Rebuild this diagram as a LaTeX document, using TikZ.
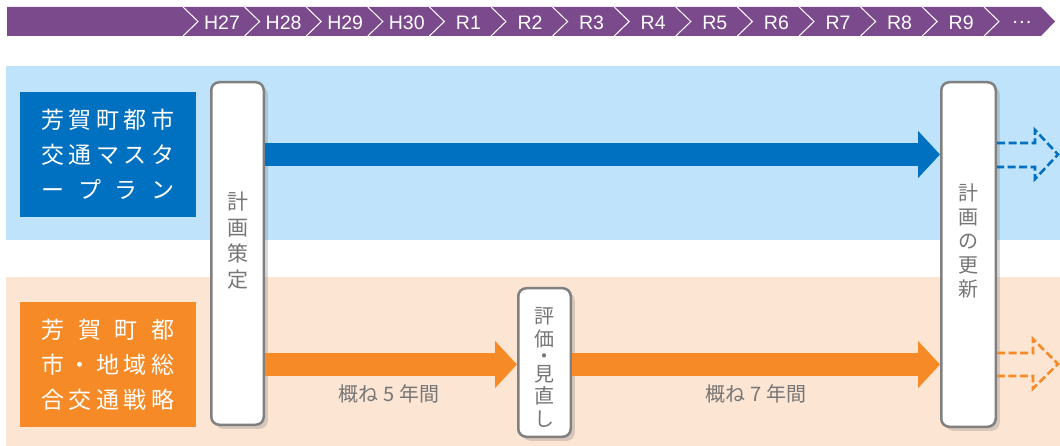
\documentclass[tikz,border=0pt]{standalone}
\usepackage{fontspec}
\setmainfont{Noto Sans CJK JP}
\newfontfamily\latinfont{Liberation Sans}
\usetikzlibrary{arrows.meta,shadows}

\definecolor{barpurple}{RGB}{123,74,140}
\definecolor{bandblue}{RGB}{190,227,250}
\definecolor{mainblue}{RGB}{0,112,192}
\definecolor{bandorange}{RGB}{253,229,211}
\definecolor{mainorange}{RGB}{246,138,38}
\definecolor{boxgray}{RGB}{128,128,128}
\definecolor{txtgray}{RGB}{118,118,118}

\begin{document}
\begin{tikzpicture}[x=1pt,y=-1pt]
\tikzstyle{yr} = [text=white, inner sep=0, font=\latinfont\fontsize{19.5}{19.5}\selectfont]
\tikzstyle{tbox} = [minimum width=176pt, minimum height=125pt, inner sep=0, text=white, align=center, font=\fontsize{23}{35}\selectfont]
\tikzstyle{vbox} = [draw=boxgray, line width=2.5pt, fill=white, rounded corners=8pt, inner sep=0, drop shadow={shadow xshift=4pt, shadow yshift=-4pt, opacity=0.3}]
\tikzstyle{vtxt} = [text=txtgray, align=center, inner sep=0, font=\fontsize{21}{26}\selectfont]
\tikzstyle{bigarrow} = [line width=23pt, -{Triangle[length=22pt,width=46pt]}]
\tikzstyle{dasharrow} = [line width=2.6pt, dash pattern=on 8pt off 3.5pt]
\tikzstyle{lbl} = [text=txtgray, inner sep=0, font=\fontsize{20}{20}\selectfont]

\useasboundingbox (0,0) rectangle (1060,446);

% Bande di sfondo
\fill[bandblue] (6,66) rectangle (1060,240);
\fill[bandorange] (6,277) rectangle (1060,446);

% Barra degli anni
\fill[barpurple] (7,7) -- (1041,7) -- (1055,21.5) -- (1041,36) -- (7,36) -- cycle;
\foreach \lab [count=\i from 0] in {H27,H28,H29,H30,R1,R2,R3,R4,R5,R6,R7,R8,R9} {
  \pgfmathsetmacro{\x}{183+61.6*\i}
  \draw[white, line width=1pt] (\x,7) -- (\x+15,21.5) -- (\x,36);
  \node[yr] (yr-\i) at (\x+39,23) {\lab};
}
\draw[white, line width=1pt] (984,7) -- (999,21.5) -- (984,36);
\node[yr, font=\fontsize{18}{18}\selectfont] (yr-13) at (1022.5,22) {…};

% Riquadri dei piani
\node[tbox, fill=mainblue] (master) at (108,154.5) {%
  \makebox[133pt]{芳\hfill 賀\hfill 町\hfill 都\hfill 市}\\
  \makebox[133pt]{交\hfill 通\hfill マ\hfill ス\hfill タ}\\
  \makebox[133pt]{ー\hfill プ\hfill ラ\hfill ン}};
\node[tbox, fill=mainorange] (strategy) at (108,364.5) {%
  \makebox[133pt]{芳\hfill 賀\hfill 町\hfill 都}\\
  \makebox[133pt]{市\hfill ・\hfill 地\hfill 域\hfill 総}\\
  \makebox[133pt]{合\hfill 交\hfill 通\hfill 戦\hfill 略}};

% Riquadri verticali
\node[vbox, minimum width=52.5pt, minimum height=342.5pt] (plan) at (237.5,253.5) {};
\node[vbox, minimum width=52.5pt, minimum height=148.5pt] (rev) at (544.5,362.5) {};
\node[vbox, minimum width=54.5pt, minimum height=344.5pt] (upd) at (968.5,254.5) {};
\node[vtxt] (plan-txt) at (237.5,241) {計\\画\\策\\定};
\node[vtxt, font=\fontsize{20}{22.5}\selectfont] (rev-txt) at (544.5,367.5) {評\\価\\[-5pt]・\\[-5pt]見\\直\\し};
\node[vtxt, font=\fontsize{20}{24}\selectfont] (upd-txt) at (968.5,240.5) {計\\画\\の\\更\\新};

% Frecce
\draw[bigarrow, mainblue] (plan.east |- 0,154.5) -- (upd.west |- 0,154.5);
\draw[bigarrow, mainorange] (plan.east |- 0,364.5) -- (rev.west |- 0,364.5)
     node[midway, yshift=-29pt, xshift=-2pt, lbl] (lab5) {概ね 5 年間};
\draw[bigarrow, mainorange] (rev.east |- 0,364.5) -- (upd.west |- 0,364.5)
     node[midway, yshift=-29pt, lbl] (lab7) {概ね 7 年間};

% Frecce tratteggiate (continuazione)
\draw[dasharrow, mainblue] (upd.east |- 0,143) -- ++(38,0) -- ++(0,-13) -- ++(23,24.5)
     -- ++(-23,24.5) -- ++(0,-12) -- ++(-38,0);
\draw[dasharrow, mainorange] (upd.east |- 0,353) -- ++(36,0) -- ++(0,-14) -- ++(25,25)
     -- ++(-25,24.5) -- ++(0,-12.5) -- ++(-36,0);

\end{tikzpicture}
\end{document}
